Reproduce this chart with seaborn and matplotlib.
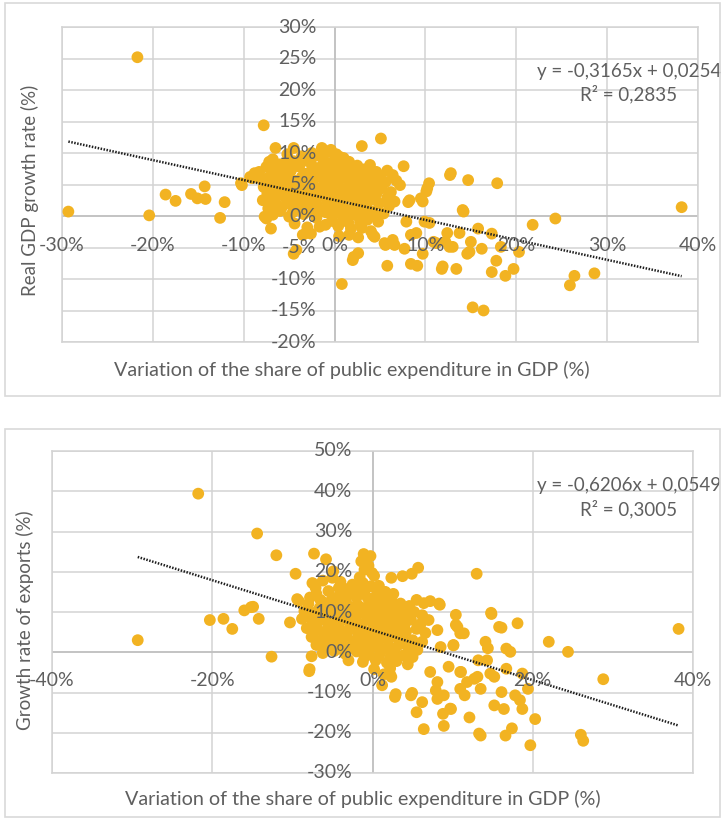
import numpy as np
import pandas as pd
import matplotlib
matplotlib.use("Agg")
import matplotlib.pyplot as plt
import seaborn as sns
from matplotlib.patches import Rectangle

# ---------------- data (values in %) ----------------
# Top panel: variation of public expenditure share (x) vs real GDP growth (y)
top_x = [-29.3, -21.7, -20.4, -18.6, -17.5, -15.8, -15.1, -14.3, -14.2, -12.6, -12.1,
         -10.2, -9.1, -7.8, -6.5, -4.5, -7.0, -7.5, -4.5, -3.5, -1.4, -0.4, 0.8, 2.1,
         2.6, 1.6, 3.0, 3.9, 5.1, 4.4, 5.6, 5.8, 6.6, 7.6, 7.2, 6.6, 7.9, 8.1, 8.4, 7.7,
         8.4, 9.1, 9.7, 10.2, 10.4, 9.9, 10.9, 9.7, 11.8, 12.7, 12.2, 13.0, 13.4, 14.2,
         14.7, 14.6, 15.0, 15.8, 16.2, 15.2, 16.4, 17.3, 17.9, 17.8, 17.3, 18.3, 18.8,
         19.7, 20.3, 21.8, 24.3, 25.9, 26.4, 28.6, 38.2,
         -10.3, -9.3, -8.3, -7.2, -7.9, -7.7, -4.2, -3.1, -1.65, 0.55, 2.0, 4.2, 5.5,
         6.4, 8.25, 9.5, 10.1, 9.0, 10.45, 11.2, 11.9, 12.8, 14.1, 14.85, 13.75, 12.4,
         12.65,
         -2.5, -1.8, -0.8, 0.2, 1.0, -3.6, -5.2,
         -6.8, -4.5, -3.0, -1.2, 0.0, 1.6, 2.5, -6.0,
         -7.5, -5.6, -4.0, -2.2, -0.5, 0.9, 2.0, 3.2, 4.6, 5.8,
         -8.8, -6.5, -5.0, -3.3, -1.6, 0.3, 1.4, 2.8, 3.8, 5.0, 6.4,
         -8.0, -7.0, -5.8, -4.4, -2.8, -1.0, 0.6, 2.2, 3.4, 4.4, 5.6, 6.8,
         -7.8, -6.3, -5.0, -3.7, -2.0, -0.4, 1.0, 2.6, 3.9, 5.2, 6.2,
         -7.4, -6.0, -4.6, -3.0, -1.3, 0.2, 1.8, 3.0, 4.6, 5.8,
         -7.6, -6.6, -5.3, -3.8, -2.4, -0.8, 0.8, 2.3, 3.6, 4.9, 6.0,
         -7.3, -5.8, -4.2, -2.8, -1.5, 0.1, 1.5, 2.9, 4.2, 5.4,
         -6.8, -5.0, -3.4, -2.0, -0.4, 1.0, 2.4, 3.6, 4.8,
         -4.4, -3.0, -1.0, 0.4, 1.8, 3.0, 4.0,
         -2.6, 0.5, 2.6]
top_y = [0.7, 25.2, 0.1, 3.4, 2.4, 3.5, 2.8, 4.7, 2.7, -0.3, 2.2,
         4.9, 6.0, 14.4, 10.8, 10.8, -2.0, -0.4, -6.0, -3.0, 10.8, 10.5, -10.8, -6.5,
         -5.9, -3.0, 11.1, 8.1, 12.3, -3.3, -4.6, -7.9, -4.6, 7.9, 4.9, 2.3, -0.9, 2.2,
         -3.0, -5.2, -7.6, -7.9, 2.3, 4.4, 5.2, -0.9, -4.1, -6.0, -8.4, 6.5, -4.1, -4.9,
         -8.4, 0.7, 5.7, -6.0, -4.1, -2.0, -5.2, -14.5, -15.0, -2.8, 5.2, -7.1, -8.9,
         -4.9, -9.5, -8.4, -5.7, -1.4, -0.4, -11.0, -9.5, -9.1, 1.4,
         5.2, 6.2, 7.0, 8.6, 2.5, -0.1, -5.4, -2.7, -1.7, 9.4, -7.0, -3.0, -4.3,
         -3.8, 2.5, 2.8, 3.9, -2.7, -1.1, -4.3, -8.0, 6.8, 0.95, -5.7, -2.7, -2.7,
         -4.9,
         10.0, 9.6, 10.2, 9.8, 9.2, 9.5, 9.8,
         9.0, 8.7, 8.8, 8.9, 9.0, 8.6, 8.0, 8.2,
         7.8, 7.6, 7.9, 7.6, 8.0, 7.7, 7.2, 7.4, 7.0, 7.2,
         6.8, 6.6, 6.9, 6.7, 6.5, 6.8, 6.3, 6.1, 6.6, 6.2, 6.5,
         5.8, 5.5, 5.9, 5.6, 5.8, 5.5, 5.9, 5.3, 5.6, 5.0, 5.4, 5.6,
         4.6, 4.8, 4.4, 4.7, 4.5, 4.8, 4.3, 4.6, 4.2, 4.4, 3.8,
         3.6, 3.4, 3.7, 3.5, 3.8, 3.4, 3.7, 3.2, 3.5, 2.9,
         2.5, 2.2, 2.7, 2.4, 2.8, 2.3, 2.6, 2.2, 2.5, 2.0, 1.6,
         1.2, 1.4, 1.1, 1.5, 1.0, 1.3, 0.9, 1.2, 0.7, 0.4,
         0.2, -0.1, 0.3, -0.3, 0.2, -0.4, 0.1, -0.6, -0.9,
         -1.2, -1.8, -1.4, -1.6, -2.0, -1.9, -2.4,
         -2.8, -3.2, -3.4]
# extra points read from the solid core of the top cloud (x, y)
top_core = [(-5.4, 8.4), (-3.8, 8.2), (-2.6, 8.4), (-1.5, 7.8), (0.0, 8.2), (1.2, 8.3),
            (-6.8, 7.3), (-4.8, 7.2), (-2.6, 7.1), (-0.9, 7.2), (0.9, 6.9), (2.2, 6.7),
            (3.0, 7.0), (-7.3, 6.1), (-5.3, 6.3), (-3.6, 6.2), (-2.0, 6.2), (-0.2, 6.3),
            (1.5, 5.8), (2.9, 5.1), (4.0, 5.9), (-6.9, 5.0), (-5.6, 5.2), (-4.2, 5.0),
            (-2.8, 5.2), (-1.2, 4.9), (0.2, 5.2), (1.8, 4.9), (3.2, 4.7), (4.5, 4.4),
            (-6.8, 4.2), (-5.4, 4.0), (-3.6, 4.1), (-2.2, 4.0), (-0.7, 4.1), (0.9, 3.9),
            (2.4, 3.9), (3.6, 3.8), (-6.9, 3.0), (-5.6, 3.2), (-4.4, 2.9), (-3.0, 3.0),
            (-1.6, 3.2), (0.0, 2.9), (1.5, 3.1), (2.9, 2.8), (4.3, 2.6), (-6.4, 1.8),
            (-5.0, 2.0), (-3.5, 1.8), (-2.0, 2.0), (-0.6, 1.7), (0.9, 1.9), (2.2, 1.6),
            (3.5, 1.8), (-6.0, 0.8), (-4.6, 0.6), (-2.6, 0.7), (-1.0, 0.6), (0.5, 0.5),
            (1.9, 0.6), (3.2, 0.4), (4.4, 0.0), (-0.2, -0.8), (1.5, -1.0), (2.8, -1.0)]

# Bottom panel: variation of public expenditure share (x) vs growth of exports (y)
bot_x = [-29.3, -21.75, -20.3, -18.6, -17.5, -16.0, -15.15, -14.4, -14.2, -12.6, -12.0,
         -10.3, -9.6, -9.2, -7.9, -7.6, -7.3, -7.1, -5.8, -4.9, -1.4, -1.1, -0.25, -0.06,
         2.35, 3.75, 4.9, 5.7, 1.2, 2.35, 2.8, 4.8, 5.5, 6.2, 6.4, 7.2, 8.1, 8.1, 8.8,
         8.9, 9.8, 7.2, 8.4, 6.4, 10.4, 10.4, 10.95, 10.1, 9.5, 10.95, 10.95, 11.5, 12.1,
         13.0, 13.5, 13.2, 14.1, 14.4, 12.7, 13.5, 14.85, 15.2, 15.2, 16.1, 16.1, 16.4,
         16.7, 17.2, 16.7, 16.6, 17.4, 18.1, 17.8, 18.4, 18.7, 18.7, 19.4, 19.7, 20.3,
         22.0, 24.4, 26.0, 26.3, 28.8, 38.2,
         -14.9, -7.5, -9.4, -7.85, 8.3, 10.6, 11.4, 14.8, 8.1, 8.5, 10.1, 7.9, 8.9, 9.7,
         2.9, 4.95, 2.2, 11.8, 13.1, 14.7, 13.3, 15.8, 14.3, 11.05,
         -1.0, 0.2, -0.5,
         -6.2, -4.0, -2.5, -1.2, 0.8, -3.5,
         -7.0, -5.5, -4.2, -2.8, -1.0, 0.5, 1.6, 2.6, -6.5,
         -8.0, -6.0, -4.8, -3.3, -1.8, -0.2, 1.2, 2.4, 3.5, 4.6, 5.5,
         -8.5, -7.2, -5.8, -4.4, -3.0, -1.5, 0.0, 1.4, 2.8, 4.0, 5.2, 6.2,
         -8.8, -7.5, -6.2, -4.8, -3.4, -2.0, -0.6, 0.8, 2.2, 3.4, 4.8, 6.0, 7.0,
         -8.2, -6.8, -5.4, -4.0, -2.6, -1.2, 0.3, 1.7, 3.0, 4.2, 5.5, 6.6,
         -7.6, -6.0, -4.6, -3.2, -1.8, -0.3, 1.2, 2.6, 3.8, 5.0, 6.2,
         -7.0, -5.4, -4.0, -2.5, -1.0, 0.5, 2.0, 3.3, 4.5, 5.6,
         -6.2, -4.8, -3.4, -2.0, -0.5, 1.0, 2.5, 3.8, 5.0,
         -3.0, -1.2, 0.4, 1.8, 3.0, 4.4,
         0.2, 2.2, 1.4]
bot_y = [3.0, 39.4, 8.0, 8.3, 5.8, 10.4, 11.2, 29.5, 8.3, -1.1, 24.1,
         7.4, 19.5, 12.7, -4.7, -1.0, 24.5, 16.0, 23.1, 20.1, 22.6, 24.4, 23.9, 19.7,
         18.5, 18.9, 19.5, 21.0, -8.2, -6.1, -11.1, -10.7, -14.9, -12.4, -19.1, -4.9,
         -7.4, -11.6, -15.3, -18.3, -14.1, 12.7, 11.8, 12.2, 9.3, 6.8, 4.7, 1.8, -3.6,
         -4.9, -9.1, -10.7, -16.2, 19.5, -20.7, -2.0, 2.6, 1.0, -6.6, -9.1, 9.5, -6.1,
         -13.2, 6.1, -9.9, -14.1, 0.9, 0.1, -4.1, -20.7, -18.9, 7.2, -10.7, -11.9, -14.1,
         -5.3, -9.1, -23.1, -16.6, 2.6, 0.1, -20.5, -22.0, -6.7, 5.8,
         11.3, 17.2, 13.2, -4.2, 12.1, 6.3, 4.7, 9.8, 5.5, 1.3, 1.7, -9.5, -10.7, -14.0,
         -10.4, -10.1, -5.5, -7.4, -6.1, -5.3, -20.2, 6.3, -2.0, -4.9,
         20.5, 19.0, 21.5,
         17.8, 17.5, 16.8, 17.2, 16.5, 15.8,
         14.5, 15.2, 14.0, 14.6, 15.0, 14.2, 15.0, 14.5, 13.0,
         12.0, 12.3, 11.8, 12.5, 11.6, 12.2, 11.9, 12.6, 12.1, 11.5, 13.0,
         10.2, 9.8, 10.5, 9.6, 10.3, 9.8, 10.4, 9.5, 10.2, 9.4, 10.0, 9.2,
         8.3, 7.8, 8.4, 7.6, 8.2, 7.7, 8.3, 7.5, 8.0, 7.4, 8.1, 7.0, 8.0,
         6.0, 5.6, 6.2, 5.5, 6.0, 5.4, 6.1, 5.6, 6.2, 5.2, 5.8, 4.8,
         3.8, 4.2, 3.6, 4.1, 3.4, 4.0, 3.5, 4.2, 3.3, 3.0, 2.6,
         1.8, 2.2, 1.5, 2.0, 1.6, 2.3, 1.4, 1.9, 1.0, 0.6,
         -0.2, 0.3, -0.4, 0.2, -0.6, 0.0, -0.3, -0.8, -1.2,
         -2.0, -2.4, -2.0, -2.6, -2.2, -3.0,
         -4.2, -4.0, -5.5]
# extra points read from the solid core of the bottom cloud (x, y)
bot_core = [(-7.8, 13.6), (-5.0, 13.4), (-3.8, 13.2), (-2.0, 13.6), (-0.6, 13.5), (0.8, 13.2),
            (2.0, 13.5), (-6.6, 11.0), (-5.2, 11.2), (-3.8, 10.9), (-2.4, 11.2), (-1.0, 11.0),
            (0.6, 11.1), (2.0, 11.0), (3.3, 10.8), (-8.0, 9.0), (-6.6, 9.2), (-5.0, 8.9),
            (-3.6, 9.1), (-2.2, 9.0), (-0.8, 9.2), (0.7, 8.9), (2.1, 9.1), (3.5, 9.0),
            (4.6, 9.0), (-7.0, 7.0), (-5.6, 7.2), (-4.2, 6.9), (-2.8, 7.1), (-1.4, 6.8),
            (0.0, 7.2), (1.4, 6.9), (2.8, 7.1), (4.0, 6.8), (-7.4, 4.9), (-5.8, 5.0),
            (-4.6, 4.8), (-3.2, 5.0), (-1.8, 4.7), (-0.4, 5.0), (1.0, 4.7), (2.4, 5.0),
            (3.6, 4.6), (-6.4, 3.0), (-5.0, 2.9), (-3.8, 3.0), (-2.2, 2.8), (-0.8, 3.0),
            (0.6, 2.9), (2.0, 3.1), (3.4, 2.8), (4.6, 2.2), (-5.8, 1.0), (-4.4, 0.9),
            (-3.0, 1.0), (-1.6, 0.9), (-0.2, 1.0), (1.4, 0.8), (2.8, 0.9), (-1.0, -1.2),
            (0.8, -1.0), (2.2, -1.4), (-4.2, 16.0), (-2.0, 15.2), (-0.2, 16.4), (-1.6, 18.6),
            (-5.0, 18.5)]

top_xticks = [-30, -20, -10, 0, 10, 20, 30, 40]
top_yticks = [-20, -15, -10, -5, 0, 5, 10, 15, 20, 25, 30]
bot_xticks = [-40, -20, 0, 20, 40]
bot_yticks = [-30, -20, -10, 0, 10, 20, 30, 40, 50]

top_fit = (-0.3165, 0.0254, 0.2835)   # slope, intercept, R²
bot_fit = (-0.6206, 0.0549, 0.3005)

top_xlabel = "Variation of the share of public expenditure in GDP (%)"
top_ylabel = "Real GDP growth rate (%)"
bot_xlabel = "Variation of the share of public expenditure in GDP (%)"
bot_ylabel = "Growth rate of exports (%)"

# ---------------- style ----------------
sns.set_theme(style="white")
plt.rcParams["font.family"] = ["Lato", "DejaVu Sans"]

TXT = "#5f5f5f"
GRID = "#d3d3d3"
AXIS = "#bdbdbd"
DOT = "#F2B322"

W, H = 721, 819
fig = plt.figure(figsize=(W / 100, H / 100), dpi=100)
fig.patch.set_facecolor("white")


def px_axes(x0, x1, y0, y1):
    return fig.add_axes([x0 / W, 1 - y1 / H, (x1 - x0) / W, (y1 - y0) / H])


def frame(x0, y0, x1, y1):
    fig.patches.append(Rectangle((x0 / W, 1 - y1 / H), (x1 - x0) / W, (y1 - y0) / H,
                                 transform=fig.transFigure, fill=False,
                                 ec="#d9d9d9", lw=1.2, zorder=0))


def fmt(v):
    return f"{v:.4f}".replace(".", ",")


def panel(ax, xs, ys, core, xticks, yticks, fit, xoff, yoff, eqpos):
    slope, intercept, r2 = fit
    cx, cy = zip(*core)
    df = pd.DataFrame({"x": list(xs) + list(cx), "y": list(ys) + list(cy)})
    ax.set_xlim(xticks[0], xticks[-1])
    ax.set_ylim(yticks[0], yticks[-1])
    ax.set_xticks(xticks)
    ax.set_yticks(yticks)
    ax.tick_params(length=0, labelbottom=False, labelleft=False)
    ax.grid(True, color=GRID, lw=1.1)
    ax.set_axisbelow(True)
    for s in ax.spines.values():
        s.set_color(GRID)
        s.set_linewidth(1.1)
    ax.axhline(0, color=AXIS, lw=1.1, zorder=1)
    ax.axvline(0, color=AXIS, lw=1.1, zorder=1)
    sns.scatterplot(data=df, x="x", y="y", ax=ax, s=72, color=DOT,
                    edgecolor="none", linewidth=0, zorder=3, legend=False)
    xr = np.array([df["x"].min(), df["x"].max()])
    ax.plot(xr, slope * xr + intercept * 100, color="#1e1e1e", lw=1.8,
            ls=(0, (0.6, 0.6)), zorder=4)
    ax.set_xlabel("")
    ax.set_ylabel("")
    for v in xticks:
        ax.annotate(f"{v:g}%", xy=(v, 0), xytext=(0, -xoff), textcoords="offset pixels",
                    ha="center", va="center", fontsize=14, color=TXT, zorder=5,
                    annotation_clip=False)
    for v in yticks:
        ax.annotate(f"{v:g}%", xy=(0, v), xytext=(-yoff, 0), textcoords="offset pixels",
                    ha="right", va="center", fontsize=14, color=TXT, zorder=5,
                    annotation_clip=False)
    ax.text(eqpos[0], eqpos[1],
            f"y = {fmt(slope)}x + {fmt(intercept)}\nR² = {fmt(r2)}",
            transform=ax.transAxes, ha="center", va="center", multialignment="center",
            fontsize=13.5, color=TXT, linespacing=1.35, zorder=6, clip_on=False)


# top panel
frame(5, 3, 720, 396)
ax1 = px_axes(62, 698, 27, 342)
panel(ax1, top_x, top_y, top_core, top_xticks, top_yticks, top_fit, 29, 18, (0.8915, 0.822))
fig.text(352 / W, 1 - 370 / H, top_xlabel, ha="center", va="center", fontsize=14.2, color=TXT)
fig.text(30 / W, 1 - 190 / H, top_ylabel, ha="center", va="center", rotation=90,
         fontsize=13.5, color=TXT)

# bottom panel
frame(5, 429, 720, 817)
ax2 = px_axes(52, 693, 451, 773)
panel(ax2, bot_x, bot_y, bot_core, bot_xticks, bot_yticks, bot_fit, 28, 20, (0.900, 0.854))
fig.text(363 / W, 1 - 799 / H, bot_xlabel, ha="center", va="center", fontsize=14.2, color=TXT)
fig.text(25 / W, 1 - 620 / H, bot_ylabel, ha="center", va="center", rotation=90,
         fontsize=13.5, color=TXT)

fig.savefig("out.png", dpi=100)
